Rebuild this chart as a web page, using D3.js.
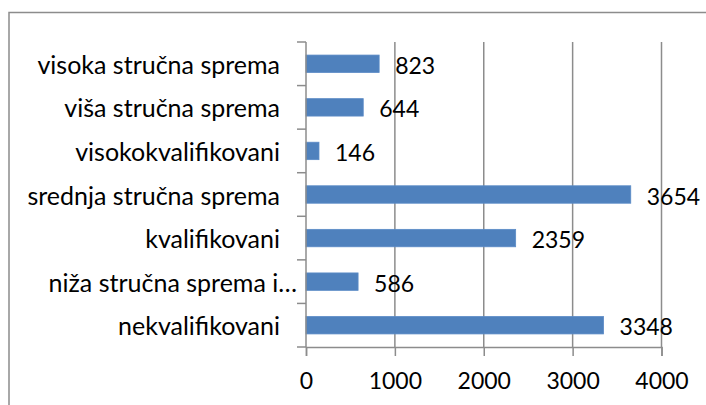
<!DOCTYPE html>
<html>
<head>
<meta charset="utf-8">
<script src="https://cdn.jsdelivr.net/npm/d3@7"></script>
<style>
  html, body { margin: 0; padding: 0; background: #fff; }
  svg { display: block; }
  text { font-family: Lato, "Open Sans", sans-serif; fill: #000; }
</style>
</head>
<body>
<svg id="chart" width="706" height="405"></svg>
<script>
// Categories listed top to bottom as shown in the chart
const categories = [
  "visoka stručna sprema",
  "viša stručna sprema",
  "visokokvalifikovani",
  "srednja stručna sprema",
  "kvalifikovani",
  "niža stručna sprema i…",
  "nekvalifikovani"
];
const values = [823, 644, 146, 3654, 2359, 586, 3348];
const xTicks = [0, 1000, 2000, 3000, 4000];

const svg = d3.select("#chart");
const W = 706, H = 405;
const CAT_FONT = 25;
const NUM_FONT = 23;

// chart border (extends past the right and bottom edges)
svg.append("rect")
  .attr("x", 9).attr("y", 12.5)
  .attr("width", W).attr("height", H)
  .attr("fill", "#fff")
  .attr("stroke", "#8c8c8c").attr("stroke-width", 1.5);

const x = d3.scaleLinear().domain([0, 4000]).range([306, 661.5]);
const y = d3.scaleBand().domain(categories).range([42, 347])
  .paddingInner(0.6).paddingOuter(0.3);

const grid = "#8c8c8c";

// vertical gridlines
svg.append("g").selectAll("line")
  .data(xTicks.filter(d => d > 0))
  .join("line")
  .attr("x1", d => x(d)).attr("x2", d => x(d))
  .attr("y1", 42).attr("y2", 347)
  .attr("stroke", grid).attr("stroke-width", 1.5);

// bars
svg.append("g").selectAll("rect")
  .data(values)
  .join("rect")
  .attr("x", x(0))
  .attr("y", (d, i) => y(categories[i]))
  .attr("width", d => x(d) - x(0))
  .attr("height", y.bandwidth())
  .attr("fill", "#4f81bd")
  .attr("stroke", "#5b8bc6").attr("stroke-width", 0.8);

// category axis (left) line + ticks at band boundaries
const y0 = 42;
svg.append("line")
  .attr("x1", x(0)).attr("x2", x(0))
  .attr("y1", y0).attr("y2", 347)
  .attr("stroke", grid).attr("stroke-width", 1.5);
svg.append("g").selectAll("line")
  .data(d3.range(categories.length + 1))
  .join("line")
  .attr("x1", x(0) - 9).attr("x2", x(0))
  .attr("y1", i => y0 + i * (305 / categories.length))
  .attr("y2", i => y0 + i * (305 / categories.length))
  .attr("stroke", grid).attr("stroke-width", 1.5);

// value axis (bottom)
const xAxis = d3.axisBottom(x).tickValues(xTicks).tickSize(9).tickPadding(17)
  .tickFormat(d3.format("d"));
const gx = svg.append("g").attr("transform", "translate(0,347)").call(xAxis);
gx.select(".domain").attr("stroke", grid).attr("stroke-width", 1.5);
gx.selectAll(".tick line").attr("stroke", grid).attr("stroke-width", 1.5);
gx.selectAll(".tick text")
  .attr("font-size", NUM_FONT).attr("font-family", "Lato, sans-serif")
  .attr("fill", "#000").attr("dy", "0.71em");

// category labels
svg.append("g").selectAll("text")
  .data(categories)
  .join("text")
  .attr("x", d => d.endsWith("…") ? 297 : 280)
  .attr("y", d => y(d) + y.bandwidth() / 2)
  .attr("text-anchor", "end")
  .attr("dominant-baseline", "central")
  .attr("font-size", CAT_FONT)
  .text(d => d);

// data labels
svg.append("g").selectAll("text")
  .data(values)
  .join("text")
  .attr("x", d => x(d) + 16)
  .attr("y", (d, i) => y(categories[i]) + y.bandwidth() / 2 + 1)
  .attr("dominant-baseline", "central")
  .attr("font-size", NUM_FONT)
  .text(d => d);
</script>
</body>
</html>
